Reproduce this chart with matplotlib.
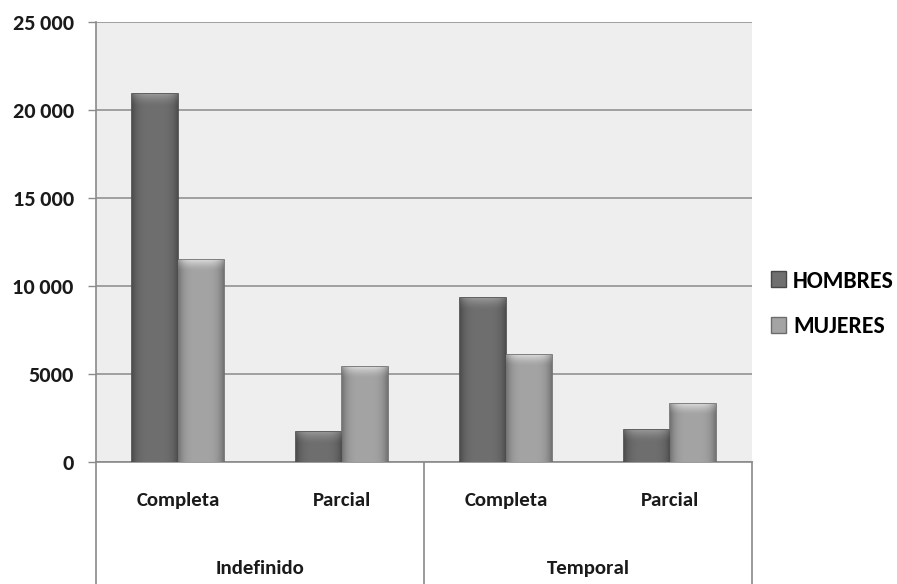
import numpy as np
import matplotlib
matplotlib.use('Agg')
import matplotlib.pyplot as plt
from matplotlib.patches import Patch

plt.rcParams['font.family'] = ['Carlito', 'Roboto', 'DejaVu Sans']
plt.rcParams['font.weight'] = 'bold'

# datos
grupos = ['Indefinido', 'Temporal']
jornadas = ['Completa', 'Parcial', 'Completa', 'Parcial']
hombres = [20900, 1700, 9300, 1800]
mujeres = [11500, 5400, 6100, 3300]
yticks = [0, 5000, 10000, 15000, 20000, 25000]
ytick_labels = ['0', '5000', '10\u2009000', '15\u2009000', '20\u2009000', '25\u2009000']

col_h = '#6f6f6f'
col_m = '#a4a4a4'
borde_h = '#474747'
borde_m = '#6c6c6c'

fig = plt.figure(figsize=(8.97, 5.84), dpi=100)
ax = fig.add_axes([96/897, 122/584, 656/897, 440/584])
ax.set_facecolor('#eeeeee')

x = np.arange(len(jornadas))
w = 0.28
bh = ax.bar(x - w/2, hombres, w, color=col_h, edgecolor=borde_h, linewidth=1.2, zorder=3, label='HOMBRES')
bm = ax.bar(x + w/2, mujeres, w, color=col_m, edgecolor=borde_m, linewidth=1.2, zorder=3, label='MUJERES')

# relieve: degradado dentro de cada barra, más claro arriba
def relieve(barras, base):
    c = np.array(matplotlib.colors.to_rgb(base))
    t = np.linspace(0, 1, 64)
    perfil = 1 - 0.3 * (2 * np.abs(t - 0.5)) ** 4
    for p in barras:
        x0, y0 = p.get_x(), p.get_y()
        ww, hh = p.get_width(), p.get_height()
        filas = 400
        v = np.linspace(0, 1, filas)
        banda = min(650 / hh, 0.4)
        vert = np.where(v < banda, 1 + 0.35 * (1 - v / banda) ** 1.5, 1.0)
        img = c[None, None, :] * vert[:, None, None] * perfil[None, :, None]
        img = np.clip(img, 0, 1)
        im = ax.imshow(img, extent=[x0, x0 + ww, y0, y0 + hh], aspect='auto',
                       zorder=3.5, interpolation='bilinear', origin='upper')
        im.set_clip_path(p)

relieve(bh, col_h)
relieve(bm, col_m)

ax.set_xlim(-0.5, 3.5)
ax.set_ylim(0, 25000)
ax.set_yticks(yticks)
ax.set_yticklabels(ytick_labels, fontsize=16, fontweight='bold', color='#1a1a1a')
ax.yaxis.grid(True, color='#999999', linewidth=1.3, zorder=0)
ax.set_axisbelow(True)
ax.tick_params(axis='y', length=6, color='#8a8a8a', width=1, pad=10)
ax.set_xticks([])

for s in ['top', 'right']:
    ax.spines[s].set_visible(False)
ax.spines['left'].set_color('#8a8a8a')
ax.spines['bottom'].set_color('#8a8a8a')
ax.spines['left'].set_linewidth(1.2)
ax.spines['bottom'].set_linewidth(1.2)

# etiquetas de dos niveles
for i, lab in enumerate(jornadas):
    ax.text(x[i], -0.088, lab, transform=ax.get_xaxis_transform(), ha='center', va='center',
            fontsize=15, fontweight='bold', color='#1a1a1a')
for j, g in enumerate(grupos):
    ax.text(2*j + 0.5, -0.243, g, transform=ax.get_xaxis_transform(), ha='center', va='center',
            fontsize=15, fontweight='bold', color='#1a1a1a')

for xv in [-0.5, 1.5, 3.5]:
    ax.plot([xv, xv], [0, -0.3], transform=ax.get_xaxis_transform(), color='#8a8a8a',
            linewidth=1.2, clip_on=False)

handles = [Patch(facecolor=col_h, edgecolor=borde_h), Patch(facecolor=col_m, edgecolor=borde_m)]
fig.legend(handles, ['HOMBRES', 'MUJERES'], loc='center left', bbox_to_anchor=(766/897, 1 - 304/584),
           frameon=False, handlelength=0.66, handleheight=0.66, handletextpad=0.28,
           borderpad=0.2, borderaxespad=0, labelspacing=1.05, prop={'weight': 'bold', 'size': 17})

fig.savefig('out.png', dpi=100, facecolor='white')
